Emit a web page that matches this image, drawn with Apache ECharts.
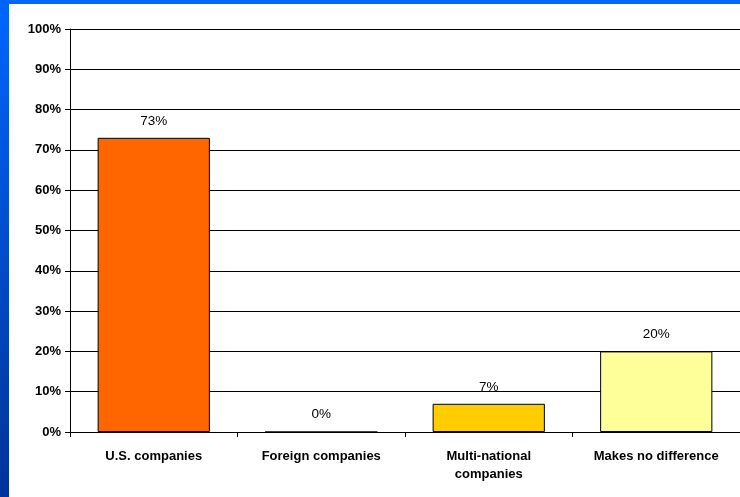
<!DOCTYPE html>
<html>
<head>
<meta charset="utf-8">
<script src="https://cdn.jsdelivr.net/npm/echarts@6/dist/echarts.min.js"></script>
<style>
  html, body { margin: 0; padding: 0; }
  #main { width: 740px; height: 497px; }
</style>
</head>
<body>
<div id="main"></div>
<script>
var categories = ['U.S. companies', 'Foreign companies', 'Multi-national\ncompanies', 'Makes no difference'];
var values = [73, 0, 7, 20];
var barColors = ['#FF6600', '#FFCC00', '#FFCC00', '#FFFF99'];

var myChart = echarts.init(document.getElementById('main'));

myChart.setOption({
    animation: false,
    backgroundColor: '#fff',
    graphic: [
        {
            type: 'rect',
            left: 0, top: 0, z: -10,
            shape: { width: 740, height: 497 },
            style: {
                fill: new echarts.graphic.LinearGradient(0, 0, 0, 1, [
                    { offset: 0, color: '#0066FF' },
                    { offset: 1, color: '#003399' }
                ])
            },
            silent: true
        },
        {
            type: 'rect',
            left: 9, top: 4, z: -9,
            shape: { width: 731, height: 493 },
            style: { fill: '#fff' },
            silent: true
        }
    ],
    grid: { left: 70, right: 0, top: 29, bottom: 65, containLabel: false },
    xAxis: {
        type: 'category',
        data: categories,
        axisLine: { lineStyle: { color: '#000', width: 1 } },
        axisTick: { show: true, length: 5, lineStyle: { color: '#000' } },
        axisLabel: {
            interval: 0,
            margin: 15,
            fontFamily: 'Liberation Sans, Arial, sans-serif',
            fontWeight: 'bold',
            fontSize: 13,
            color: '#000',
            lineHeight: 18
        }
    },
    yAxis: {
        type: 'value',
        min: 0, max: 100, interval: 10,
        axisLine: { show: true, lineStyle: { color: '#000', width: 1 } },
        axisTick: { show: true, length: 5, lineStyle: { color: '#000' } },
        splitLine: { show: true, lineStyle: { color: '#000', width: 1 } },
        axisLabel: {
            formatter: '{value}%',
            margin: 9,
            fontFamily: 'Liberation Sans, Arial, sans-serif',
            fontWeight: 'bold',
            fontSize: 13,
            color: '#000'
        }
    },
    series: [{
        type: 'bar',
        barCategoryGap: '33%',
        data: values.map(function (v, i) {
            return { value: v, itemStyle: { color: barColors[i] } };
        }),
        itemStyle: { borderColor: '#000', borderWidth: 1 },
        label: {
            show: true,
            position: 'top',
            distance: 10,
            formatter: '{c}%',
            fontFamily: 'Liberation Sans, Arial, sans-serif',
            fontSize: 13.5,
            color: '#000'
        }
    }]
});
</script>
</body>
</html>
